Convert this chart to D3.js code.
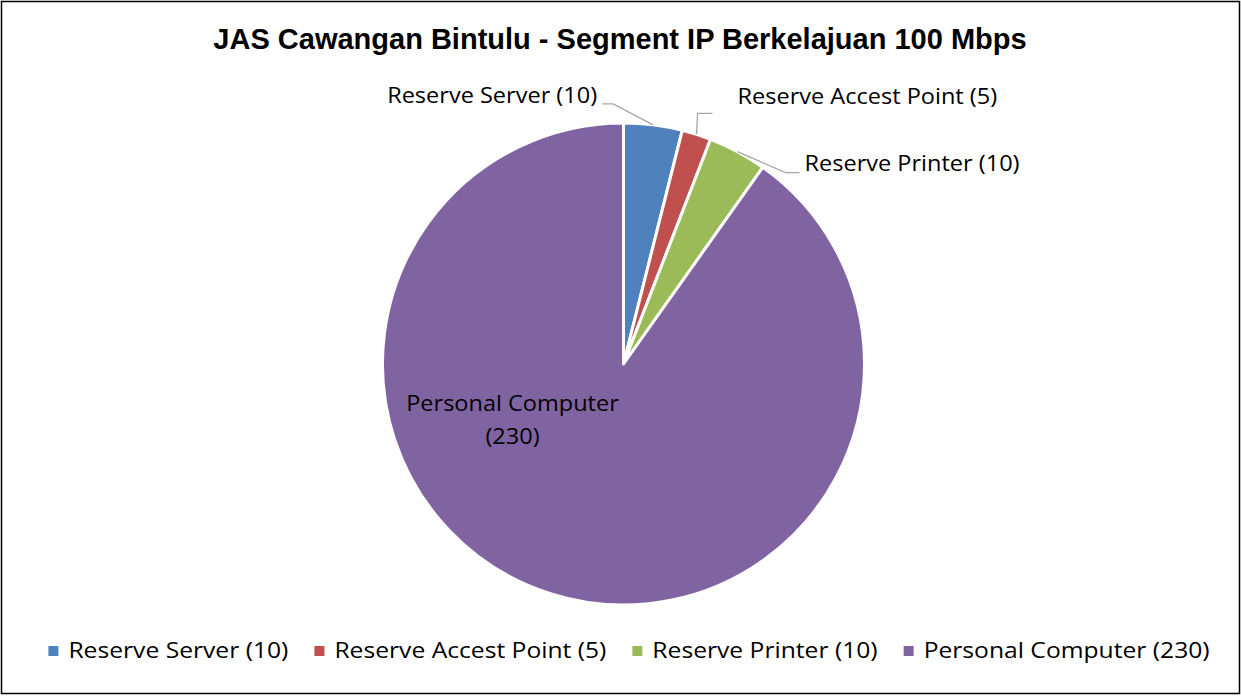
<!DOCTYPE html>
<html>
<head>
<meta charset="utf-8">
<script src="https://cdn.jsdelivr.net/npm/d3@7"></script>
<style>
  body { margin: 0; background: #fff; }
  text { font-family: "Open Sans", Lato, sans-serif; fill: #000; }
</style>
</head>
<body>
<svg id="chart" width="1241" height="696"></svg>
<script>
// Dati
const categorie = ["Reserve Server (10)", "Reserve Accest Point (5)", "Reserve Printer (10)", "Personal Computer (230)"];
const valori = [10, 5, 10, 230];
const colori = ["#4f81bd", "#c0504d", "#9bbb59", "#8064a2"];

const width = 1241, height = 696;
const cx = 623.5, cy = 364, raggio = 241;
const allarga = 1.12; // il testo dell'originale è un po' più largo

const svg = d3.select("#chart");

// allarga orizzontalmente un testo mantenendo l'altezza, ritorna la nuova larghezza
function stira(sel) {
    const node = sel.node();
    const w = node.getComputedTextLength() * allarga;
    sel.attr("textLength", w).attr("lengthAdjust", "spacingAndGlyphs");
    return w;
}

// Bordo esterno
svg.append("rect")
    .attr("x", 1.5).attr("y", 1.5)
    .attr("width", width - 3).attr("height", height - 4)
    .attr("fill", "#fff")
    .attr("stroke", "#000")
    .attr("stroke-width", 1.5);

// Titolo
svg.append("text")
    .attr("x", 620).attr("y", 49)
    .attr("text-anchor", "middle")
    .style("font-family", "'Liberation Sans', Arial, sans-serif")
    .style("font-weight", "bold")
    .style("font-size", "29px")
    .text("JAS Cawangan Bintulu - Segment IP Berkelajuan 100 Mbps");

const dati = categorie.map((c, i) => ({ nome: c, valore: valori[i], colore: colori[i] }));

const pie = d3.pie().sort(null).value(d => d.valore);
const arc = d3.arc().innerRadius(0).outerRadius(raggio);
const archi = pie(dati);

const g = svg.append("g").attr("transform", `translate(${cx},${cy})`);

g.selectAll("path")
    .data(archi)
    .enter()
    .append("path")
    .attr("d", arc)
    .attr("fill", d => d.data.colore)
    .attr("stroke", "#fff")
    .attr("stroke-width", 3)
    .attr("stroke-linejoin", "round");

// punto sul bordo a metà fetta
function puntoBordo(d) {
    const a = (d.startAngle + d.endAngle) / 2;
    return [raggio * Math.sin(a), -raggio * Math.cos(a)];
}

// Etichette esterne con linee guida (offset relativi al bordo)
const esterne = [
    { i: 0, gomito: [-40, -21], fine: [-51, -21], testo: [-56, -29], anchor: "end" },
    { i: 1, gomito: [1, -21], fine: [16, -21], testo: [41, -38], anchor: "start" },
    { i: 2, gomito: [48, 21], fine: [62, 21], testo: [67, 12], anchor: "start" }
];

esterne.forEach(e => {
    const p = puntoBordo(archi[e.i]);
    const pts = [p, [p[0] + e.gomito[0], p[1] + e.gomito[1]], [p[0] + e.fine[0], p[1] + e.fine[1]]];
    g.append("path")
        .attr("d", d3.line()(pts))
        .attr("fill", "none")
        .attr("stroke", "#a6a6a6")
        .attr("stroke-width", 1.3);
    const t = g.append("text")
        .attr("x", p[0] + e.testo[0])
        .attr("y", p[1] + e.testo[1])
        .attr("dy", "0.35em")
        .attr("text-anchor", e.anchor)
        .style("font-size", "21px")
        .text(archi[e.i].data.nome);
    stira(t);
});

// Etichetta interna
const pc = archi[3];
const lbl = g.append("g").style("font-size", "21px");
stira(lbl.append("text").attr("text-anchor", "middle")
    .attr("x", -111).attr("y", 40).attr("dy", "0.35em").text("Personal Computer"));
stira(lbl.append("text").attr("text-anchor", "middle")
    .attr("x", -111).attr("y", 73).attr("dy", "0.35em").text("(" + pc.data.valore + ")"));

// Legenda (centrata)
const leg = svg.append("g");
let lx = 0;
dati.forEach(d => {
    const item = leg.append("g").attr("transform", `translate(${lx},0)`);
    item.append("rect")
        .attr("x", 0).attr("y", 646)
        .attr("width", 10).attr("height", 10)
        .attr("fill", d.colore);
    const t = item.append("text")
        .attr("x", 20).attr("y", 658)
        .style("font-size", "22px")
        .text(d.nome);
    const w = stira(t);
    lx += 20 + w + 26;
});
const totale = lx - 26;
leg.attr("transform", `translate(${629 - totale / 2},0)`);
</script>
</body>
</html>
